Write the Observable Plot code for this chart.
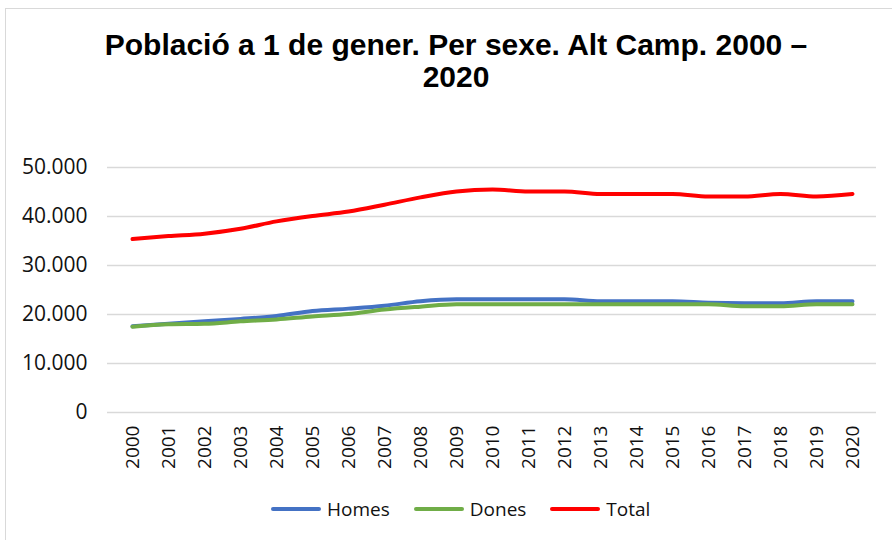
<!DOCTYPE html>
<html>
<head>
<meta charset="utf-8">
<script src="https://cdn.jsdelivr.net/npm/d3@7"></script>
<script src="https://cdn.jsdelivr.net/npm/@observablehq/plot@0.6"></script>
<style>
  html, body { margin: 0; padding: 0; background: #fff; }
  body { width: 892px; height: 540px; position: relative; overflow: hidden; }
  #frame { position: absolute; left: 5px; top: 8px; width: 1000px; height: 1000px; border: 1.5px solid #d9d9d9; box-sizing: border-box; }
  #title { position: absolute; left: 0; top: 29px; width: 912px; text-align: center;
    font: bold 30px "Liberation Sans", Arial, sans-serif; line-height: 32px; color: #000; }
  #chart { position: absolute; left: 0; top: 110px; }
  #legend { position: absolute; left: 271px; top: 496px; display: flex; align-items: center;
    font: 19px "Open Sans", sans-serif; color: #111; }
  .item { display: flex; align-items: center; margin-right: 24px; }
  .sw { width: 50px; height: 4px; border-radius: 2px; margin-right: 6px; }
</style>
</head>
<body>
<div id="frame"></div>
<div id="title">Població a 1 de gener. Per sexe. Alt Camp. 2000 –<br>2020</div>
<div id="chart"></div>
<div id="legend"></div>
<script>
const years = ["2000","2001","2002","2003","2004","2005","2006","2007","2008","2009","2010",
               "2011","2012","2013","2014","2015","2016","2017","2018","2019","2020"];
const homes = [17600, 18100, 18600, 19100, 19700, 20700, 21200, 21800, 22700, 23100, 23100,
               23100, 23100, 22700, 22700, 22700, 22400, 22300, 22300, 22700, 22700];
const dones = [17500, 18000, 18100, 18600, 19000, 19600, 20100, 21000, 21600, 22100, 22100,
               22100, 22100, 22100, 22100, 22100, 22100, 21700, 21700, 22100, 22100];
const total = [35400, 36000, 36500, 37500, 39000, 40100, 41000, 42400, 43900, 45100, 45500,
               45100, 45100, 44600, 44600, 44600, 44100, 44100, 44600, 44100, 44600];
const seriesNames = ["Homes", "Dones", "Total"];
const seriesColors = ["#4472C4", "#70AD47", "#FF0000"];
const yTicks = [0, 10000, 20000, 30000, 40000, 50000];

const seriesValues = [homes, dones, total];
const rows = seriesNames.flatMap((s, k) => years.map((yr, i) => ({serie: s, year: yr, value: seriesValues[k][i]})));

const loc = d3.formatLocale({decimal: ",", thousands: ".", grouping: [3], currency: ["", "€"]});
const fmt = loc.format(",d");

const chart = Plot.plot({
  width: 892,
  height: 370,
  marginTop: 57,
  marginBottom: 68,
  marginLeft: 107,
  marginRight: 16,
  style: {fontFamily: "'Open Sans', sans-serif", color: "#111", background: "transparent"},
  x: {type: "point", domain: years, padding: 0.5, label: null},
  y: {domain: [0, 50000], label: null},
  color: {domain: seriesNames, range: seriesColors},
  marks: [
    Plot.gridY(yTicks, {stroke: "#d9d9d9", strokeOpacity: 1, strokeWidth: 1.5}),
    Plot.axisY(yTicks, {tickSize: 0, tickPadding: 20, fontSize: 21, tickFormat: fmt, label: null}),
    Plot.axisX({tickSize: 0, tickRotate: -90, tickPadding: 13, fontSize: 19, label: null}),
    Plot.line(rows, {x: "year", y: "value", z: "serie", stroke: "serie", strokeWidth: 4,
      curve: "monotone-x", strokeLinejoin: "round", strokeLinecap: "round"})
  ]
});
document.getElementById("chart").appendChild(chart);

const legend = document.getElementById("legend");
seriesNames.forEach((s, i) => {
  const it = document.createElement("div");
  it.className = "item";
  const sw = document.createElement("div");
  sw.className = "sw";
  sw.style.background = seriesColors[i];
  const t = document.createElement("span");
  t.textContent = s;
  it.appendChild(sw); it.appendChild(t);
  legend.appendChild(it);
});
</script>
</body>
</html>
